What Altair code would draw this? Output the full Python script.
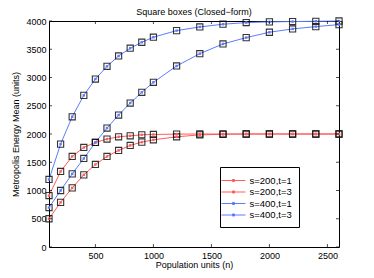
import altair as alt
import pandas as pd

x_vals = [100, 200, 300, 400, 500, 600, 700, 800, 900, 1000, 1200, 1400, 1600, 1800, 2000, 2200, 2400, 2600]
s200_t1 = [500, 790, 1046, 1277, 1461, 1603, 1709, 1798, 1856, 1897, 1950, 1985, 1995, 2000, 2000, 2000, 2000, 2000]
s200_t3 = [910, 1337, 1603, 1762, 1851, 1910, 1950, 1968, 1986, 1992, 1998, 2000, 2000, 2000, 2000, 2000, 2000, 2000]
s400_t1 = [698, 1000, 1294, 1567, 1851, 2105, 2335, 2548, 2738, 2915, 3204, 3422, 3594, 3706, 3801, 3860, 3901, 3936]
s400_t3 = [1195, 1821, 2305, 2684, 2973, 3198, 3381, 3518, 3624, 3713, 3830, 3895, 3943, 3972, 3984, 3990, 3995, 4000]

series_names = ["s=200,t=1", "s=200,t=3", "s=400,t=1", "s=400,t=3"]
series_colors = ["#ff5c5c", "#ff5c5c", "#5c7cff", "#5c7cff"]
x_ticks = [500, 1000, 1500, 2000, 2500]
y_ticks = [0, 500, 1000, 1500, 2000, 2500, 3000, 3500, 4000]
x_domain = [100, 2600]
y_domain = [0, 4000]

rows = []
for name, vals in zip(series_names, [s200_t1, s200_t3, s400_t1, s400_t3]):
    for xv, yv in zip(x_vals, vals):
        rows.append({"n": xv, "v": yv, "series": name})
df = pd.DataFrame(rows)

# tick positions for the inward (MATLAB style) ticks on all four sides
xt = pd.DataFrame({"t": x_ticks * 2, "edge": [y_domain[0]] * len(x_ticks) + [y_domain[1]] * len(x_ticks),
                   "side": ["b"] * len(x_ticks) + ["t"] * len(x_ticks)})
yt = pd.DataFrame({"t": y_ticks * 2, "edge": [x_domain[0]] * len(y_ticks) + [x_domain[1]] * len(y_ticks),
                   "side": ["l"] * len(y_ticks) + ["r"] * len(y_ticks)})

W, H = 290, 226
FONT = "Liberation Sans"

xs = alt.Scale(domain=x_domain, nice=False, zero=False)
ys = alt.Scale(domain=y_domain, nice=False, zero=False)

ax_x_main = alt.Axis(orient="bottom", values=x_ticks, ticks=False, tickSize=0,
                     domain=False, grid=False, labelExpr="datum.value", labelOverlap=False,
                     labelPadding=4, labelFontSize=9, labelFont=FONT, labelColor="black",
                     title="Population units (n)", titleFont=FONT, titleFontSize=9,
                     titleFontWeight="normal", titleColor="black",
                     titleBaseline="alphabetic", titleY=20.5)
ax_y_main = alt.Axis(orient="left", values=y_ticks, ticks=False, tickSize=0,
                     domain=False, grid=False, labelExpr="datum.value", labelOverlap=False,
                     labelPadding=3, labelFontSize=9, labelFont=FONT, labelColor="black",
                     title="Metropolis Energy Mean (units)", titleFont=FONT, titleFontSize=9,
                     titleFontWeight="normal", titleColor="black", titlePadding=5)

legend_symbol = "M-2,0L2,0M-0.17,-0.17L0.17,-0.17L0.17,0.17L-0.17,0.17Z"

leg = alt.Legend(title=None, orient="none", legendX=171, legendY=146, padding=7,
                 strokeColor="black", fillColor="white", symbolType=legend_symbol, symbolSize=144,
                 symbolStrokeWidth=1, labelFont=FONT, labelFontSize=9.5, labelColor="black",
                 labelOffset=9.5, rowPadding=0.5)


def X(field):
    return alt.X(field, scale=xs, axis=ax_x_main)


def Y(field):
    return alt.Y(field, scale=ys, axis=ax_y_main)


base = alt.Chart(df)

lines = base.mark_line(strokeWidth=1).encode(
    x=X("n:Q"),
    y=Y("v:Q"),
    color=alt.Color("series:N", scale=alt.Scale(domain=series_names, range=series_colors), legend=leg),
)

squares = base.mark_point(shape="square", size=38, filled=False, stroke="#111111",
                          strokeWidth=1.1, opacity=0.85).encode(
    x=X("n:Q"),
    y=Y("v:Q"),
)

inner = base.mark_square(size=6, opacity=1).encode(
    x=X("n:Q"),
    y=Y("v:Q"),
    fill=alt.Fill("series:N", scale=alt.Scale(domain=series_names, range=series_colors), legend=None),
)

tick_b = alt.Chart(xt).transform_filter("datum.side == 'b'").mark_tick(
    orient="vertical", size=3, thickness=1, color="black", yOffset=-1.5).encode(
    x=X("t:Q"), y=Y("edge:Q"))
tick_t = alt.Chart(xt).transform_filter("datum.side == 't'").mark_tick(
    orient="vertical", size=3, thickness=1, color="black", yOffset=1.5).encode(
    x=X("t:Q"), y=Y("edge:Q"))
tick_l = alt.Chart(yt).transform_filter("datum.side == 'l'").mark_tick(
    orient="horizontal", size=3, thickness=1, color="black", xOffset=1.5).encode(
    y=Y("t:Q"), x=X("edge:Q"))
tick_r = alt.Chart(yt).transform_filter("datum.side == 'r'").mark_tick(
    orient="horizontal", size=3, thickness=1, color="black", xOffset=-1.5).encode(
    y=Y("t:Q"), x=X("edge:Q"))

chart = alt.layer(lines, squares, inner, tick_b, tick_t, tick_l, tick_r).properties(
    width=W, height=H,
    background="white",
    title=alt.TitleParams("Square boxes (Closed\u2212form)", font=FONT, fontSize=9, fontWeight="normal",
                          color="black", offset=-1.5),
    autosize=alt.AutoSizeParams(type="none"),
    padding={"left": 41, "top": 13, "right": 16, "bottom": 23},
).configure_view(stroke="black", strokeWidth=1)

chart.save("out.html", embed_options={"renderer": "svg", "actions": False})
